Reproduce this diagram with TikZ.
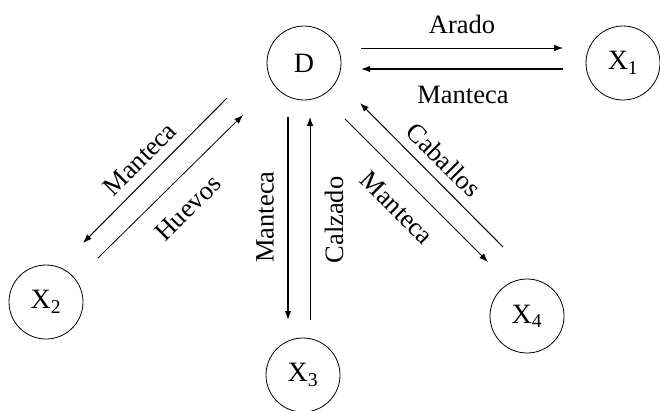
\documentclass[tikz,border=0pt]{standalone}
\usepackage{fontspec}
\setmainfont{Liberation Serif}
\usetikzlibrary{arrows.meta}
\begin{document}
\begin{tikzpicture}[x=1pt,y=-1pt,
  agent/.style={circle,draw,line width=0.8pt,minimum size=74pt,inner sep=0pt,font=\fontsize{28}{32}\selectfont},
  flow/.style={line width=0.8pt,-{Latex[length=9pt,width=6.5pt]}},
  boldflow/.style={flow,line width=1.3pt},
  lbl/.style={font=\fontsize{26.5}{30}\selectfont,inner sep=0pt}]
\useasboundingbox (0,0) rectangle (660,410);
\node[agent] (D)  at (304,63)  {D};
\node[agent] (X1) at (623,63)  {X\textsubscript{1}};
\node[agent] (X2) at (46,302)  {X\textsubscript{2}};
\node[agent] (X3) at (303,375) {X\textsubscript{3}};
\node[agent] (X4) at (527,316) {X\textsubscript{4}};
% D - X1
\coordinate (a1) at (361,48);  \coordinate (a2) at (563,48);
\coordinate (b1) at (563,69);  \coordinate (b2) at (361,69);
\draw[flow] (a1) -- (a2);
\draw[boldflow] (b1) -- (b2);
\node[lbl] (tArado) at (462,24) {Arado};
\node[lbl] (tM1) at (463,95) {Manteca};
% D - X2
\coordinate (c1) at (227,98);  \coordinate (c2) at (83,243);
\coordinate (d1) at (98,258);  \coordinate (d2) at (243,115);
\draw[flow,line width=1pt] (c1) -- (c2);
\draw[flow] (d1) -- (d2);
\node[lbl,rotate=45] (tM2) at (140,159) {Manteca};
\node[lbl,rotate=45] (tHuevos) at (188,208) {Huevos};
% D - X3
\coordinate (e1) at (288,117); \coordinate (e2) at (288,320);
\coordinate (f1) at (310,320); \coordinate (f2) at (310,117);
\draw[boldflow] (e1) -- (e2);
\draw[flow] (f1) -- (f2);
\node[lbl,rotate=90] (tM3) at (265,217) {Manteca};
\node[lbl,rotate=90] (tCalzado) at (334,220) {Calzado};
% D - X4
\coordinate (g1) at (345,119); \coordinate (g2) at (488,262);
\coordinate (h1) at (503,247); \coordinate (h2) at (360,103);
\draw[flow] (g1) -- (g2);
\draw[flow,line width=1pt] (h1) -- (h2);
\node[lbl,rotate=-45] (tCaballos) at (444,160) {Caballos};
\node[lbl,rotate=-45] (tM4) at (397,208) {Manteca};
\end{tikzpicture}
\end{document}
